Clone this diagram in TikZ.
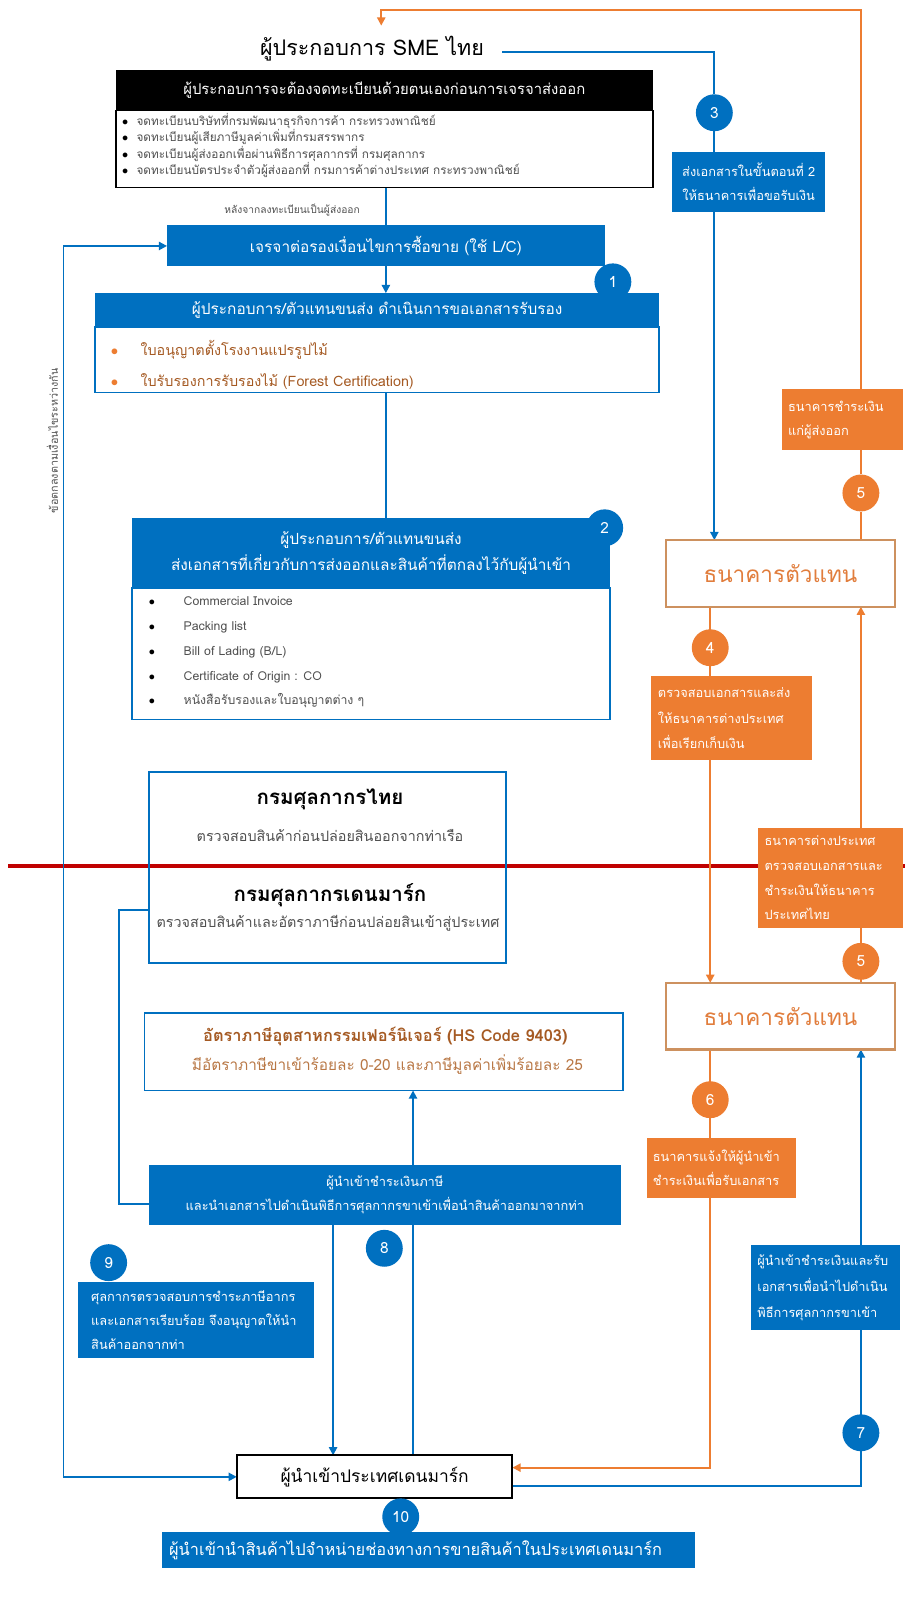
\documentclass[tikz,border=0pt]{standalone}
\usepackage{fontspec}
\setmainfont[Script=Thai]{Loma}
\usetikzlibrary{arrows.meta}
\definecolor{tblue}{RGB}{0,112,192}
\definecolor{torange}{RGB}{237,125,49}
\definecolor{tbankline}{RGB}{205,145,95}
\definecolor{tbanktext}{RGB}{225,125,60}
\definecolor{tbrown}{RGB}{165,90,35}
\definecolor{tbrownl}{RGB}{185,120,70}
\definecolor{tred}{RGB}{192,0,0}
\definecolor{tgray}{RGB}{80,80,80}
\pgfdeclarelayer{bg}
\pgfsetlayers{bg,main}
\begin{document}
\begin{tikzpicture}[x=1pt,y=-1pt,
  box/.style={rectangle, inner sep=0pt, outer sep=0pt},
  bfill/.style={box, fill=tblue, text=white},
  ofill/.style={box, fill=torange, text=white, align=left},
  num/.style={circle, minimum size=36pt, inner sep=0pt, text=white, font=\fontsize{15}{15}\selectfont},
  bnum/.style={num, fill=tblue},
  onum/.style={num, fill=torange},
  bline/.style={draw=tblue, line width=1.8pt},
  oline/.style={draw=torange, line width=1.8pt},
  arr/.style={-{Triangle[length=8pt,width=8pt]}},
  darr/.style={{Triangle[length=8pt,width=8pt]}-{Triangle[length=8pt,width=8pt]}},
  bank/.style={box, draw=tbankline, line width=2pt, fill=white, text=tbanktext, minimum width=223pt, minimum height=65pt, font=\fontsize{22}{22}\selectfont},
  small/.style={font=\fontsize{12.5}{23}\selectfont}
]
\useasboundingbox (0,0) rectangle (883,1568);

% ---------- top exporter ----------
\node (sme) at (363,47) {\fontsize{21}{21}\selectfont ผู้ประกอบการ SME ไทย};
\node[box, fill=black, text=white, minimum width=524pt, minimum height=40pt, font=\fontsize{14.5}{14.5}\selectfont] (reghead) at (375,88) {ผู้ประกอบการจะต้องจดทะเบียนด้วยตนเองก่อนการเจรจาส่งออก};
\node[box, draw=black, line width=1.5pt, fill=white, minimum width=524pt, minimum height=75pt] (regbody) at (375,145.5) {};
\node[anchor=west, align=left, inner sep=0pt, text=tgray, font=\fontsize{11.5}{14.7}\selectfont] (reglist) at (119,142)
{\makebox[14pt][l]{\textcolor{black}{$\bullet$}}จดทะเบียนบริษัทที่กรมพัฒนาธุรกิจการค้า กระทรวงพาณิชย์\\
\makebox[14pt][l]{\textcolor{black}{$\bullet$}}จดทะเบียนผู้เสียภาษีมูลค่าเพิ่มที่กรมสรรพากร\\
\makebox[14pt][l]{\textcolor{black}{$\bullet$}}จดทะเบียนผู้ส่งออกเพื่อผ่านพิธีการศุลกากรที่ กรมศุลกากร\\
\makebox[14pt][l]{\textcolor{black}{$\bullet$}}จดทะเบียนบัตรประจำตัวผู้ส่งออกที่ กรมการค้าต่างประเทศ กระทรวงพาณิชย์};
\node[font=\fontsize{10}{10}\selectfont, text=tgray] (after) at (285,205) {หลังจากลงทะเบียนเป็นผู้ส่งออก};
\node[bfill, minimum width=427pt, minimum height=40pt, font=\fontsize{15}{15}\selectfont] (nego) at (376.5,240) {เจรจาต่อรองเงื่อนไขการซื้อขาย (ใช้ L/C)};

% ---------- step 1 ----------
\node[bfill, minimum width=550pt, minimum height=33pt, font=\fontsize{15}{15}\selectfont] (b1head) at (368,302.5) {ผู้ประกอบการ/ตัวแทนขนส่ง ดำเนินการขอเอกสารรับรอง};
\node[box, draw=tblue, line width=1.8pt, fill=white, minimum width=550pt, minimum height=64pt] (b1body) at (368,351) {};
\node[anchor=west, align=left, inner sep=0pt, text=tbrown, font=\fontsize{14}{30}\selectfont] (b1list) at (108,356)
{\makebox[29pt][l]{\textcolor{torange}{$\bullet$}}ใบอนุญาตตั้งโรงงานแปรรูปไม้\\
\makebox[29pt][l]{\textcolor{torange}{$\bullet$}}ใบรับรองการรับรองไม้ (Forest Certification)};
\node[bnum] (c1) at (598,275) {1};

% ---------- step 2 ----------
\node[bfill, minimum width=466pt, minimum height=69pt, align=center, font=\fontsize{15}{26}\selectfont] (b2head) at (362,539.5)
{ผู้ประกอบการ/ตัวแทนขนส่ง\\ส่งเอกสารที่เกี่ยวกับการส่งออกและสินค้าที่ตกลงไว้กับผู้นำเข้า};
\node[box, draw=tblue, line width=1.8pt, fill=white, minimum width=466pt, minimum height=128pt] (b2body) at (362,638) {};
\node[anchor=west, align=left, inner sep=0pt, text=tgray, font=\fontsize{12}{24.3}\selectfont] (b2list) at (145,636.5)
{\makebox[34pt][l]{\textcolor{black}{$\bullet$}}Commercial Invoice\\
\makebox[34pt][l]{\textcolor{black}{$\bullet$}}Packing list\\
\makebox[34pt][l]{\textcolor{black}{$\bullet$}}Bill of Lading (B/L)\\
\makebox[34pt][l]{\textcolor{black}{$\bullet$}}Certificate of Origin : CO\\
\makebox[34pt][l]{\textcolor{black}{$\bullet$}}หนังสือรับรองและใบอนุญาตต่าง ๆ};
\node[bnum] (c2) at (590,515) {2};

% ---------- customs ----------
\node[box, draw=tblue, line width=1.8pt, minimum width=349pt, minimum height=187pt] (customs) at (319.5,846.5) {};
\node[font=\fontsize{20}{20}\selectfont\bfseries] (thcus) at (322,780) {กรมศุลกากรไทย};
\node[font=\fontsize{14}{14}\selectfont, text=tgray] (thcussub) at (322,815) {ตรวจสอบสินค้าก่อนปล่อยสินออกจากท่าเรือ};
\node[font=\fontsize{20}{20}\selectfont\bfseries] (dkcus) at (322,873) {กรมศุลกากรเดนมาร์ก};
\node[font=\fontsize{14}{14}\selectfont, text=tgray] (dkcussub) at (320,901) {ตรวจสอบสินค้าและอัตราภาษีก่อนปล่อยสินเข้าสู่ประเทศ};

% ---------- tariff ----------
\node[box, draw=tblue, line width=1.8pt, fill=white, minimum width=467pt, minimum height=76pt] (hs) at (374.5,1026) {};
\node[text=tbrown, font=\fontsize{16}{16}\selectfont\bfseries] (hstitle) at (376,1011) {อัตราภาษีอุตสาหกรรมเฟอร์นิเจอร์ (HS Code 9403)};
\node[text=tbrownl, font=\fontsize{15}{15}\selectfont] (hssub) at (378,1039) {มีอัตราภาษีขาเข้าร้อยละ 0-20 และภาษีมูลค่าเพิ่มร้อยละ 25};

% ---------- step 8 box ----------
\node[bfill, minimum width=461pt, minimum height=58pt, align=center, font=\fontsize{12.5}{23}\selectfont] (box8) at (375.5,1166)
{ผู้นำเข้าชำระเงินภาษี\\และนำเอกสารไปดำเนินพิธีการศุลกากรขาเข้าเพื่อนำสินค้าออกมาจากท่า};
\node[bnum] (c8) at (375,1218) {8};
\node[bnum] (c9) at (106,1232) {9};
\node[bfill, minimum width=230pt, minimum height=74pt, text width=204pt, align=left, font=\fontsize{12.5}{23}\selectfont] (box9) at (191,1288)
{ศุลกากรตรวจสอบการชำระภาษีอากร\\และเอกสารเรียบร้อย จึงอนุญาตให้นำ\\สินค้าออกจากท่า};

% ---------- importer ----------
\node[box, draw=black, line width=2pt, fill=white, minimum width=269pt, minimum height=42pt, font=\fontsize{17}{17}\selectfont] (importer) at (365.5,1441) {ผู้นำเข้าประเทศเดนมาร์ก};
\node[bnum] (c10) at (391,1480) {10};
\node[bfill, minimum width=520pt, minimum height=35pt, text width=506pt, align=left, font=\fontsize{16}{16}\selectfont] (box10) at (418,1512.5)
{ผู้นำเข้านำสินค้าไปจำหน่ายช่องทางการขายสินค้าในประเทศเดนมาร์ก};

% ---------- right column ----------
\node[bnum] (c3) at (697,110) {3};
\node[bfill, minimum width=149pt, minimum height=59pt, align=center, font=\fontsize{12.5}{23}\selectfont] (box3) at (730.5,177.5)
{ส่งเอกสารในขั้นตอนที่ 2\\ให้ธนาคารเพื่อขอรับเงิน};
\node[ofill, minimum width=118pt, minimum height=59pt, text width=106pt, small] (box5a) at (822,409.5)
{ธนาคารชำระเงิน\\แก่ผู้ส่งออก};
\node[onum] (c5a) at (840,481) {5};
\node[bank] (bank1) at (761.5,559.5) {ธนาคารตัวแทน};
\node[onum] (c4) at (693,632) {4};
\node[ofill, minimum width=157pt, minimum height=82pt, text width=143pt, font=\fontsize{12.5}{25}\selectfont] (box4) at (713.5,701)
{ตรวจสอบเอกสารและส่ง\\ให้ธนาคารต่างประเทศ\\เพื่อเรียกเก็บเงิน};
\node[ofill, minimum width=141pt, minimum height=97pt, text width=129pt, font=\fontsize{12.5}{24}\selectfont] (box5b) at (810.5,856.5)
{ธนาคารต่างประเทศ\\ตรวจสอบเอกสารและ\\ชำระเงินให้ธนาคาร\\ประเทศไทย};
\node[onum] (c5b) at (840,938) {5};
\node[bank] (bank2) at (761.5,991.5) {ธนาคารตัวแทน};
\node[onum] (c6) at (693,1073) {6};
\node[ofill, minimum width=146pt, minimum height=59pt, text width=134pt, small] (box6) at (704,1139.5)
{ธนาคารแจ้งให้ผู้นำเข้า\\ชำระเงินเพื่อรับเอกสาร};
\node[bfill, minimum width=145pt, minimum height=83pt, text width=133pt, align=left, font=\fontsize{12.5}{25}\selectfont] (box7) at (805.5,1256.5)
{ผู้นำเข้าชำระเงินและรับ\\เอกสารเพื่อนำไปดำเนิน\\พิธีการศุลกากรขาเข้า};
\node[bnum] (c7) at (840,1398) {7};

% agreement label
\node[rotate=90, text=tgray, font=\fontsize{10.5}{10.5}\selectfont] (agree) at (51,430) {ข้อตกลงตามเงื่อนไขระหว่างกัน};

% ---------- coordinates ----------
\coordinate (redL) at (8,845);
\coordinate (redR) at (883,845);
\coordinate (otr) at (840,10);
\coordinate (otl) at (372,10);
\coordinate (smearr) at (372,25);
\coordinate (smeR) at (490,51);
\coordinate (lt) at (62,240);
\coordinate (lb) at (62,1441);
\coordinate (cuy) at (0,888);
\coordinate (cl1) at (116,888);
\coordinate (cl2) at (116,1175);
\coordinate (upx) at (403,0);
\coordinate (dnx) at (325,0);
\coordinate (impO) at ([yshift=9pt]importer.east);
\coordinate (impB) at ([yshift=-9pt]importer.east);

\begin{pgfonlayer}{bg}
\fill[white] (0,0) rectangle (883,1568);
\draw[tred, line width=3.5pt] (redL) -- (redR);
% orange: bank1 -> exporter
\draw[oline, arr] (c5a |- bank1.north) -- (c5a) -- (otr) -- (otl) -- (smearr);
% blue: exporter -> bank1
\draw[bline, arr] (smeR) -- (c3 |- smeR) -- (c3) -- (c3 |- bank1.north);
% chain on left
\draw[bline] (nego |- regbody.south) -- (nego.north);
\draw[bline, arr] (nego.south) -- (nego |- b1head.north);
\draw[bline] (nego |- b1body.south) -- (nego |- b2head.north);
\draw[bline, darr] (nego.west) -- (lt) -- (lb) -- (importer.west);
% banks
\draw[oline, arr] (c4 |- bank1.south) -- (c4 |- bank2.north);
\draw[oline, arr] (c5b |- bank2.north) -- (c5b |- bank1.south);
\draw[oline, arr] (c6 |- bank2.south) -- (c6 |- impO) -- (impO);
\draw[bline, arr] (impB) -- (c7 |- impB) -- (c7 |- bank2.south);
% customs -> box8
\draw[bline] (customs.west |- cuy) -- (cl1) -- (cl2) -- (box8.west |- cl2);
% box8 links
\draw[bline, arr] (upx |- box8.north) -- (upx |- hs.south);
\draw[bline] (upx |- box8.south) -- (upx |- importer.north);
\draw[bline, arr] (dnx |- box8.south) -- (dnx |- importer.north);
\draw[bline] (c10 |- importer.south) -- (c10 |- box10.north);
\end{pgfonlayer}
\end{tikzpicture}
\end{document}
